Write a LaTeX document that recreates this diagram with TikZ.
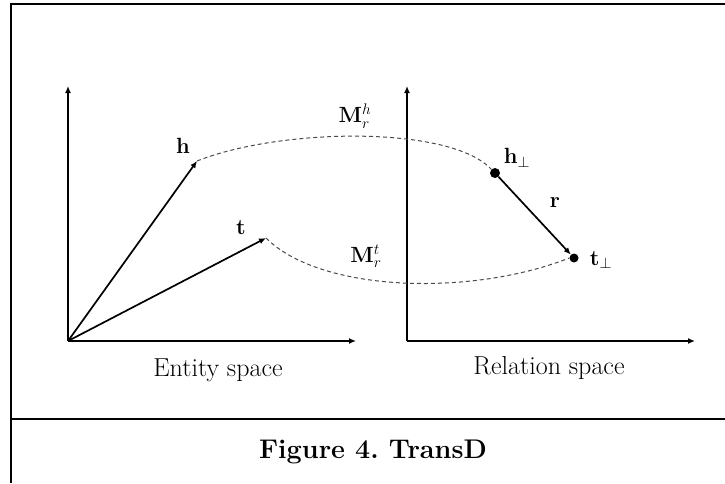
\RequirePackage{fix-cm}
\documentclass[tikz,border=0pt]{standalone}
\usepackage{xcolor}
\usepackage{tikz}
\usetikzlibrary{arrows.meta,positioning}
\usepackage{amsmath}
\usepackage{amssymb}
\definecolor{inkblack}{HTML}{000000}
\definecolor{dashgray}{HTML}{4A4A4A}
\tikzset{
  framerule/.style={line width=2pt, color=inkblack},
  axisline/.style={-{Latex[length=7pt,width=6pt]}, line width=1.9pt, color=inkblack},
  vecline/.style={-{Latex[length=7pt,width=6pt]}, line width=1.7pt, color=inkblack},
  mapcurve/.style={dash pattern=on 4pt off 3pt, line width=1pt, color=dashgray},
  spacelabel/.style={font=\fontsize{26}{30}\selectfont, inner sep=0pt},
  veclabel/.style={font=\fontsize{22}{26}\selectfont, inner sep=0pt},
  projdot/.style={circle, fill=inkblack, inner sep=0pt, minimum size=#1},
}

\begin{document}
\frenchspacing
\begin{tikzpicture}[x=1pt, y=-1pt]
  \useasboundingbox (0,0) rectangle (725,483);
  % outer frame and caption rule
  \draw[framerule] (11,483) -- (11,4) -- (725,4);
  \draw[framerule] (11,419) -- (725,419);

  % axes
  \coordinate (eo) at (68,341);
  \coordinate (ey) at (68,86);
  \coordinate (ex) at (356,341);
  \coordinate (ro) at (407,341);
  \coordinate (ry) at (407,86);
  \coordinate (rx) at (695,341);
  \draw[axisline] (eo) -- (ey);
  \draw[axisline] (eo) -- (ex);
  \draw[axisline] (ro) -- (ry);
  \draw[axisline] (ro) -- (rx);

  % entity vectors
  \coordinate (htip) at (197,161);
  \coordinate (ttip) at (266,238);
  \draw[vecline] (eo) -- (htip);
  \draw[vecline] (eo) -- (ttip);
  \node[veclabel] (hlab) at (183,146) {$\mathbf{h}$};
  \node[veclabel] (tlab) at (241,228) {$\mathbf{t}$};

  % projected points
  \node[projdot=10pt] (hp) at (495,173) {};
  \node[projdot=9pt] (tp) at (574,258) {};
  \node[veclabel] (hplab) at (517,158) {$\mathbf{h}_{\perp}$};
  \node[veclabel] (tplab) at (601,260) {$\mathbf{t}_{\perp}$};
  \draw[vecline] (hp) -- (tp);
  \node[veclabel] (rlab) at (555,203) {$\mathbf{r}$};

  % mapping curves
  \draw[mapcurve] (htip) .. controls (280,128) and (450,125) .. (hp.north west);
  \draw[mapcurve] (ttip) .. controls (320,292) and (470,297) .. (tp.west);
  \node[veclabel] (mh) at (355,116) {$\mathbf{M}_r^h$};
  \node[veclabel] (mt) at (366,256) {$\mathbf{M}_r^t$};

  % space names and caption
  \node[spacelabel] (ename) at (218,370) {Entity space};
  \node[spacelabel] (rname) at (549,368) {Relation space};
  \node[spacelabel, font=\fontsize{27}{31}\selectfont\bfseries] (cap) at (373,452) {Figure 4. TransD};
\end{tikzpicture}
\end{document}
